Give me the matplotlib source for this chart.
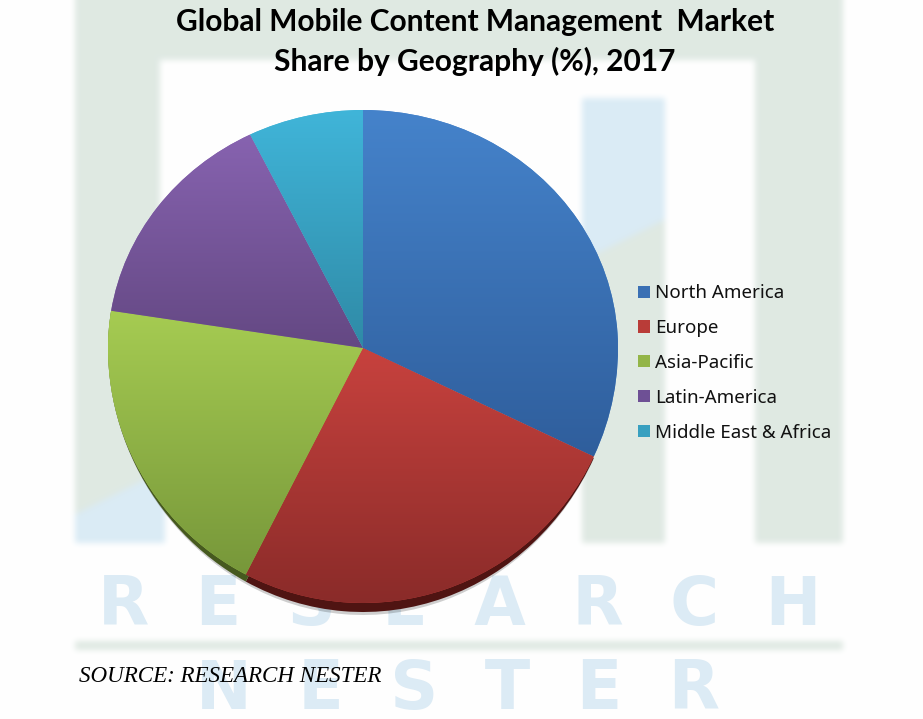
import numpy as np
import matplotlib
matplotlib.use("Agg")
import matplotlib.pyplot as plt
from matplotlib.colors import LinearSegmentedColormap
from matplotlib.patches import Patch, PathPatch, Polygon
from matplotlib.path import Path

W, H = 923, 719

regions = ["North America", "Europe", "Asia-Pacific", "Latin-America", "Middle East & Africa"]
shares = [32, 25.6, 19.9, 15.2, 7.3]
top_colors = ["#4583cb", "#c8423e", "#a6cc52", "#8763b0", "#40b5d9"]
bottom_colors = ["#2f5e9c", "#8a2b29", "#77973a", "#644883", "#2f8aa6"]
legend_colors = ["#3a70b4", "#b93c38", "#93b548", "#6e5095", "#38a0c0"]
side_colors = [None, "#4f1412", "#46591f", None, None]


def background():
    img = np.ones((H, W, 3))
    green = np.array([0.875, 0.914, 0.890])
    blue = np.array([0.855, 0.922, 0.961])
    yy, xx = np.mgrid[0:H, 0:W]
    diagonal = 513 - 0.5 * (xx - 77)

    panel = (xx >= 75) & (xx < 843) & (yy < 543)
    inner = (xx >= 160) & (xx < 755) & (yy >= 60)
    img[panel & ~inner] = green

    bar = (xx >= 582) & (xx < 665) & (yy >= 98) & (yy < 543)
    img[bar & (yy < diagonal)] = blue
    img[bar & (yy >= diagonal)] = green

    corner = (xx >= 75) & (xx < 165) & (yy >= diagonal) & (yy < 543)
    img[corner] = blue

    img[(xx >= 75) & (xx < 843) & (yy >= 641) & (yy < 650)] = green

    # the watermark in the reference is soft, so blur it a little
    kernel = np.ones(7) / 7
    for _ in range(2):
        for axis in (0, 1):
            for c in range(3):
                img[:, :, c] = np.apply_along_axis(
                    lambda v: np.convolve(np.pad(v, 3, mode="edge"), kernel, mode="valid"),
                    axis, img[:, :, c])
    return img


fig = plt.figure(figsize=(W / 100, H / 100), dpi=100)
ax = fig.add_axes([0, 0, 1, 1])

ax.imshow(background(), extent=(0, W, 0, H), aspect="auto", zorder=0, origin="upper")

# watermark lettering
ax.text(460, H - 606, "R  E  S  E  A  R  C  H", ha="center", va="center", fontsize=48,
        fontweight="bold", color="#dcebf5", family="DejaVu Sans", zorder=1)
ax.text(458, H - 690, "N  E  S  T  E  R", ha="center", va="center", fontsize=48,
        fontweight="bold", color="#dcebf5", family="DejaVu Sans", zorder=1)

cx, cy, radius = 363, H - 348, 255
wedges, _ = ax.pie(shares, startangle=90, counterclock=False, radius=radius, center=(cx, cy))


def squash(verts, rim=0):
    # upper half of the pie is flatter than the lower half
    verts = verts.copy()
    up = verts[:, 1] > cy
    verts[up, 1] = cy + (verts[up, 1] - cy) * 238 / 255
    # rim gets thicker towards the bottom of the pie
    low = ~up
    verts[low, 1] -= rim * ((cy - verts[low, 1]) / radius) ** 2
    return verts


outlines = []
for w in wedges:
    path = w.get_patch_transform().transform_path(w.get_path())
    outlines.append(path.to_polygons(closed_only=True)[0])
    w.set_visible(False)

# soft grey shadow and the dark rim under the lower slices
for poly, side in zip(outlines, side_colors):
    if side is not None:
        ax.add_patch(Polygon(squash(poly, 12), closed=True, fc="#00000030", ec="none", zorder=2))
for poly, side in zip(outlines, side_colors):
    if side is not None:
        ax.add_patch(Polygon(squash(poly, 9), closed=True, fc=side, ec="none", zorder=3))

for poly, c0, c1 in zip(outlines, top_colors, bottom_colors):
    verts = squash(poly)
    x0, x1 = verts[:, 0].min(), verts[:, 0].max()
    y0, y1 = verts[:, 1].min(), verts[:, 1].max()
    cmap = LinearSegmentedColormap.from_list("shade", [c0, c1])
    ax.add_patch(Polygon(verts, closed=True, fc=c0, ec="none", zorder=4))
    im = ax.imshow(np.linspace(0, 1, 256).reshape(-1, 1), extent=(x0, x1, y0, y1), cmap=cmap,
                   aspect="auto", origin="upper", zorder=5)
    clip = PathPatch(Path(verts), transform=ax.transData, fc="none", ec="none")
    ax.add_patch(clip)
    im.set_clip_path(clip)

ax.set_xlim(0, W)
ax.set_ylim(0, H)
ax.set_aspect("auto")
ax.axis("off")

ax.text(475, H - 22, "Global Mobile Content Management  Market", ha="center", va="center",
        fontsize=21.5, fontweight="bold", family="Lato", color="black", zorder=6)
ax.text(475, H - 61, "Share by Geography (%), 2017", ha="center", va="center",
        fontsize=21.5, fontweight="bold", family="Lato", color="black", zorder=6)

handles = [Patch(fc=c, ec="none", label=r) for c, r in zip(legend_colors, regions)]
ax.legend(handles=handles, loc="center left", bbox_to_anchor=(638 / W, (H - 363) / H),
          bbox_transform=fig.transFigure, frameon=False, handlelength=0.62, handleheight=0.62,
          handletextpad=0.27, labelspacing=0.9, borderpad=0, borderaxespad=0,
          prop={"family": "Noto Sans", "size": 13.5}, labelcolor="#111111").set_zorder(6)

ax.text(79, H - 677, "SOURCE: RESEARCH NESTER", ha="left", va="center", fontsize=16.6,
        family="Liberation Serif", style="italic", color="black", zorder=6)

fig.savefig("out.png", dpi=100)
